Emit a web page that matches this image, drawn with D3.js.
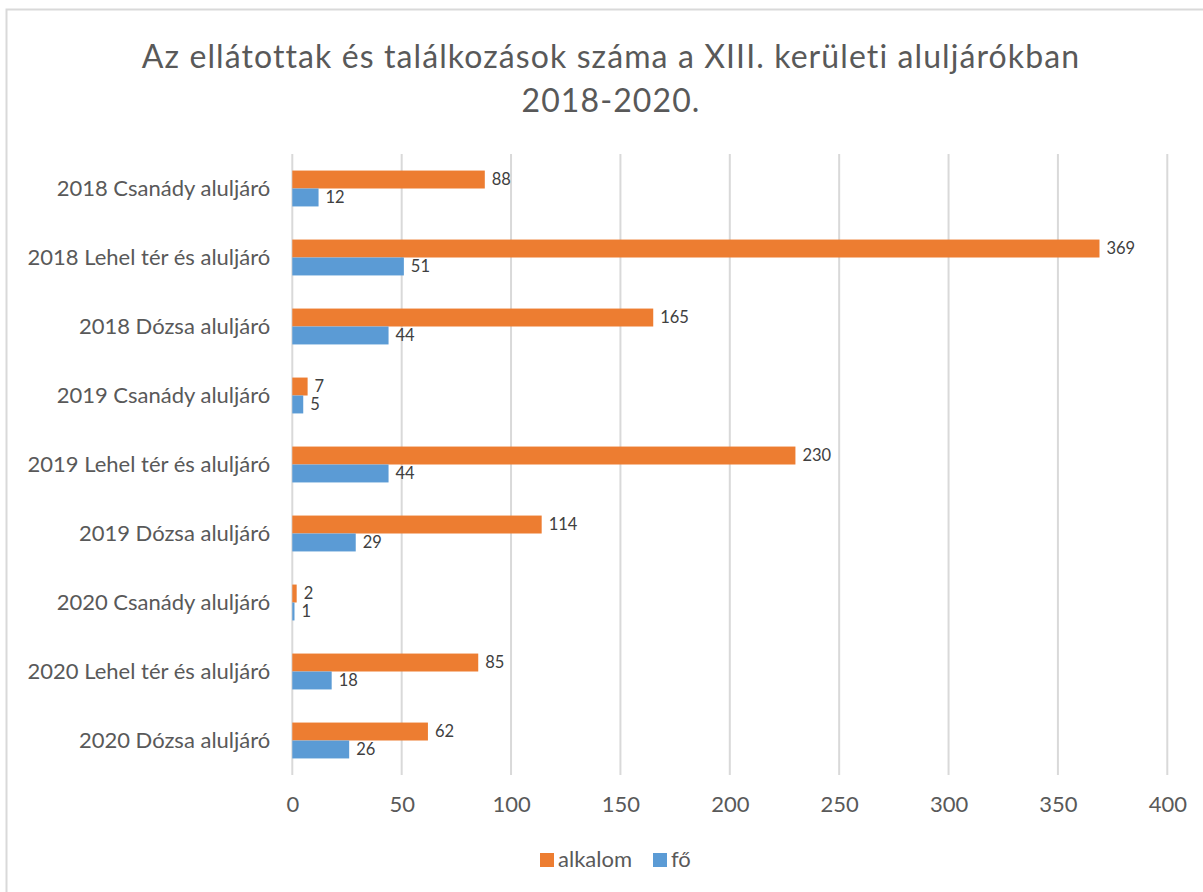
<!DOCTYPE html>
<html>
<head>
<meta charset="utf-8">
<script src="https://cdn.jsdelivr.net/npm/d3@7"></script>
<style>
  html, body { margin: 0; padding: 0; background: #fff; }
  svg { display: block; font-family: Lato, "Open Sans", sans-serif; }
</style>
</head>
<body>
<svg id="chart" width="1203" height="892"></svg>
<script>
const categories = [
  "2018 Csanády aluljáró",
  "2018 Lehel tér és aluljáró",
  "2018 Dózsa aluljáró",
  "2019 Csanády aluljáró",
  "2019 Lehel tér és aluljáró",
  "2019 Dózsa aluljáró",
  "2020 Csanády aluljáró",
  "2020 Lehel tér és aluljáró",
  "2020 Dózsa aluljáró"
];
const seriesNames = ["alkalom", "fő"];
const alkalom = [88, 369, 165, 7, 230, 114, 2, 85, 62];
const fo = [12, 51, 44, 5, 44, 29, 1, 18, 26];
const xTicks = [0, 50, 100, 150, 200, 250, 300, 350, 400];
const titleLines = ["Az ellátottak és találkozások száma a XIII. kerületi aluljárókban", "2018-2020."];
const colors = { "alkalom": "#ED7D31", "fő": "#5B9BD5" };

const seriesValues = { "alkalom": alkalom, "fő": fo };

const svg = d3.select("#chart");

// chart border
svg.append("rect")
  .attr("x", 6.5).attr("y", 9.5)
  .attr("width", 1220).attr("height", 900)
  .attr("fill", "none").attr("stroke", "#D9D9D9").attr("stroke-width", 2);

// title
svg.append("g").selectAll("text").data(titleLines).join("text")
  .attr("x", 611).attr("y", (d, i) => 68 + i * 44)
  .attr("text-anchor", "middle")
  .attr("fill", "#595959")
  .attr("font-size", 32)
  .attr("letter-spacing", 1.1)
  .text(d => d);

const plot = { left: 292.3, right: 1167.3, top: 154, bottom: 775 };

const x = d3.scaleLinear().domain([0, 400]).range([plot.left, plot.right]);
const y0 = d3.scaleBand().domain(categories).range([plot.top, plot.bottom])
  .paddingInner(0.48).paddingOuter(0.24);
const y1 = d3.scaleBand().domain(seriesNames).range([0, y0.bandwidth()]);

// gridlines
svg.append("g").selectAll("line").data(xTicks).join("line")
  .attr("x1", d => x(d)).attr("x2", d => x(d))
  .attr("y1", plot.top).attr("y2", plot.bottom)
  .attr("stroke", "#D9D9D9").attr("stroke-width", 2);

// x axis labels
const xAxis = d3.axisBottom(x).tickValues(xTicks).tickSize(0).tickPadding(0);
const gx = svg.append("g").attr("transform", `translate(0, ${plot.bottom + 21})`).call(xAxis);
gx.select(".domain").remove();
gx.selectAll("text").attr("font-size", 22).attr("fill", "#595959")
  .attr("font-family", "Lato, 'Open Sans', sans-serif").attr("dy", "0.71em");

// y axis labels
const yAxis = d3.axisLeft(y0).tickSize(0).tickPadding(0);
const gy = svg.append("g").attr("transform", `translate(${plot.left - 22}, 0)`).call(yAxis);
gy.select(".domain").remove();
gy.selectAll("text").attr("font-size", 22).attr("fill", "#595959")
  .attr("font-family", "Lato, 'Open Sans', sans-serif");

// bars
const rows = categories.map((c, i) => ({ cat: c, vals: seriesNames.map(s => ({ s, v: seriesValues[s][i] })) }));
const groups = svg.append("g").selectAll("g").data(rows).join("g")
  .attr("transform", d => `translate(0, ${y0(d.cat)})`);

groups.selectAll("rect").data(d => d.vals).join("rect")
  .attr("x", x(0))
  .attr("y", d => y1(d.s))
  .attr("width", d => x(d.v) - x(0))
  .attr("height", y1.bandwidth())
  .attr("fill", d => colors[d.s]);

groups.selectAll("text").data(d => d.vals).join("text")
  .attr("x", d => x(d.v) + 7)
  .attr("y", d => y1(d.s) + y1.bandwidth() / 2)
  .attr("dy", "0.36em")
  .attr("font-size", 16.5)
  .attr("fill", "#404040")
  .text(d => d.v);

// legend
const legend = svg.append("g");
const legendItems = [{ s: "alkalom", x: 540 }, { s: "fő", x: 653 }];
legend.selectAll("rect").data(legendItems).join("rect")
  .attr("x", d => d.x).attr("y", 853)
  .attr("width", 14).attr("height", 14)
  .attr("fill", d => colors[d.s]);
legend.selectAll("text").data(legendItems).join("text")
  .attr("x", d => d.x + 18).attr("y", 867)
  .attr("font-size", 22).attr("fill", "#595959")
  .text(d => d.s);
</script>
</body>
</html>
